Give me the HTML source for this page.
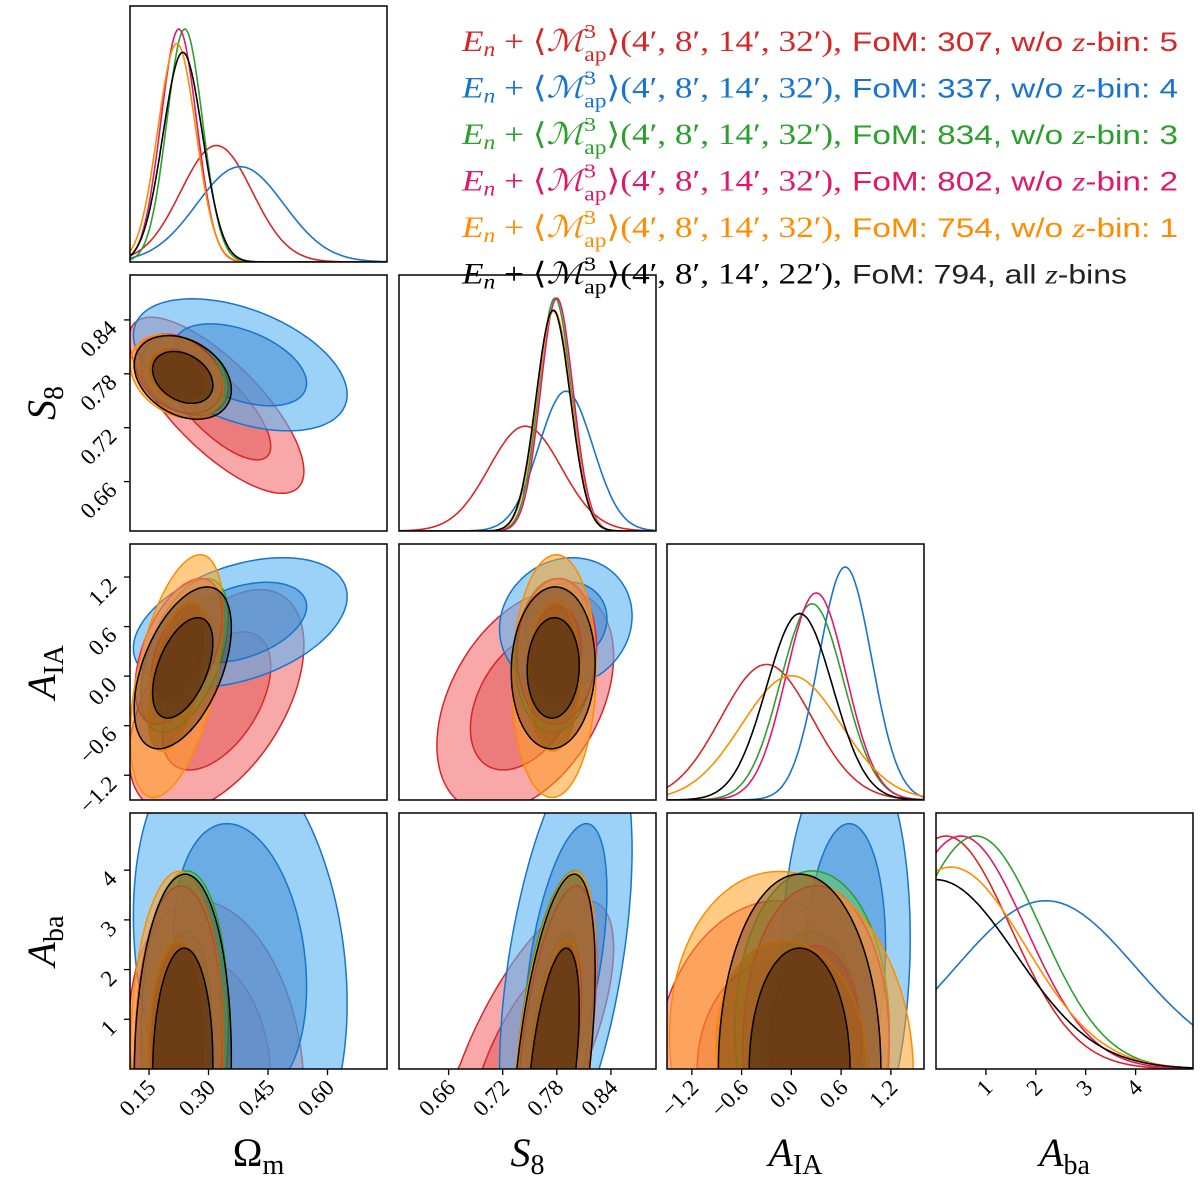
<!DOCTYPE html>
<html><head><meta charset="utf-8"><style>
html,body{margin:0;padding:0;background:#fff;overflow:hidden;width:1200px;height:1200px;}
svg{display:block;}
.tk{font-family:"Liberation Serif",serif;font-size:23px;}
.ax{font-family:"Liberation Serif",serif;font-size:40px;}
.m{font-family:"Liberation Serif",serif;font-size:30px;}
.s{font-family:"Liberation Sans",sans-serif;font-size:27px;}
</style></head><body>
<svg id="c" width="1200" height="1200" viewBox="0 0 1200 1200" xmlns="http://www.w3.org/2000/svg" overflow="hidden"></svg>
<script>
// ---- data ----
const ranges=[[0.102,0.75],[0.605,0.89],[-1.5,1.6],[0,5.15]];
const ticksOm=[0.15,0.30,0.45,0.60];
const ticksS8=[0.66,0.72,0.78,0.84];
const ticksAIA=[-1.2,-0.6,0.0,0.6,1.2];
const ticksAba=[1,2,3,4];
const tickLabelsOm=['0.15','0.30','0.45','0.60'];
const tickLabelsS8=['0.66','0.72','0.78','0.84'];
const tickLabelsAIA=['\u22121.2','\u22120.6','0.0','0.6','1.2'];
const tickLabelsAba=['1','2','3','4'];
const seriesNames=['bin5','bin4','bin3','bin2','bin1','all'];
const foms=['307','337','834','802','754','794'];
const meanOm=[0.32,0.38,0.24,0.225,0.22,0.235];
const sigOm=[0.09,0.11,0.045,0.045,0.048,0.05];
const meanS8=[0.745,0.79,0.778,0.78,0.777,0.776];
const sigS8=[0.04,0.03,0.018,0.018,0.019,0.019];
const meanAIA=[-0.3,0.65,0.25,0.3,0.0,0.1];
const sigAIA=[0.55,0.32,0.38,0.36,0.6,0.4];
const meanAba=[0.2,2.2,0.8,0.5,0.3,0.0];
const sigAba=[1.3,1.8,1.3,1.3,1.5,1.6];
const corrOmS8=[-0.75,-0.45,-0.3,-0.3,-0.3,-0.3];
const corrOmAIA=[0.5,0.4,0.5,0.5,0.5,0.5];
const corrS8AIA=[0.4,0.1,0.05,0.05,0.05,0.05];
const corrOmAba=[-0.2,-0.2,0.05,0.05,0.05,0.05];
const corrS8Aba=[0.7,0.5,0.5,0.5,0.5,0.5];
const corrAIAAba=[0.1,0.1,0.0,0.0,-0.1,0.0];

const lineCol=['#d62728','#1874cd','#2ca02c','#e0186c','#ff8c00','#000000'];
const outerFill=['#f47a7a','#5ab4f4','#5cc85c','#e0508c','#ffa020','#3a2510'];
const innerFill=['#e05050','#3a86d0','#3aa03a','#c0306c','#e08010','#2a1508'];
const outerOp=[0.65,0.6,0.55,0.55,0.55,0.35];
const innerOp=[0.5,0.5,0.5,0.5,0.5,0.45];

const means=[meanOm,meanS8,meanAIA,meanAba];
const sigs=[sigOm,sigS8,sigAIA,sigAba];
const corr={'1,0':corrOmS8,'2,0':corrOmAIA,'2,1':corrS8AIA,'3,0':corrOmAba,'3,1':corrS8Aba,'3,2':corrAIAAba};
const ticks=[ticksOm,ticksS8,ticksAIA,ticksAba];
const tickLabels=[tickLabelsOm,tickLabelsS8,tickLabelsAIA,tickLabelsAba];
const colX=[130,399,667,936], rowY=[6,275,544,813], W=257, H=256;
const NS='http://www.w3.org/2000/svg';
const svg=document.getElementById('c');
function mk(tag,attrs,parent){const e=document.createElementNS(NS,tag);for(const k in attrs)e.setAttribute(k,attrs[k]);(parent||svg).appendChild(e);return e;}
function sx(v,c){return colX[c]+(v-ranges[c][0])/(ranges[c][1]-ranges[c][0])*W;}
function sy(v,r){return rowY[r]+H-(v-ranges[r][0])/(ranges[r][1]-ranges[r][0])*H;}
function clamp(v,a,b){return Math.max(a,Math.min(b,v));}
function panel(r,c){return mk('svg',{x:colX[c],y:rowY[r],width:W,height:H,viewBox:colX[c]+' '+rowY[r]+' '+W+' '+H,overflow:'hidden'});}

// 2D panels
for(let r=1;r<4;r++)for(let c=0;c<r;c++){
  const g=panel(r,c);
  
  
  const rho=corr[r+','+c];
  for(let s=0;s<6;s++){
    [2.45,1.52].forEach((k,li)=>{
      let d='';
      for(let i=0;i<=120;i++){
        const t=i/120*2*Math.PI;
        const xv=means[c][s]+k*sigs[c][s]*Math.cos(t);
        const yv=means[r][s]+k*sigs[r][s]*(rho[s]*Math.cos(t)+Math.sqrt(1-rho[s]*rho[s])*Math.sin(t));
        const px=clamp(sx(xv,c),colX[c]-2,colX[c]+W+2), py=clamp(sy(yv,r),rowY[r]-2,rowY[r]+H+2);
        d+=(i?'L':'M')+px.toFixed(1)+','+py.toFixed(1);
      }
      const p=mk('path',{d:d+'Z',fill:li?innerFill[s]:outerFill[s],'fill-opacity':li?innerOp[s]:outerOp[s],stroke:lineCol[s],'stroke-width':1.5},g);
      
      
    });
  }
}

// 1D panels
for(let d=0;d<4;d++){
  const g=panel(d,d);
  
  
  let mx=0;
  for(let s=0;s<6;s++){mx=Math.max(mx,1/sigs[d][s]);}
  for(let s=0;s<6;s++){
    let p='';
    for(let i=0;i<=200;i++){
      const v=ranges[d][0]+i/200*(ranges[d][1]-ranges[d][0]);
      const z=(v-means[d][s])/sigs[d][s];
      const dens=Math.exp(-0.5*z*z)/sigs[d][s]/mx;
      p+=(i?'L':'M')+sx(v,d).toFixed(1)+','+(rowY[d]+H-dens*0.91*H).toFixed(1);
    }
    const e=mk('path',{d:p,fill:'none',stroke:lineCol[s],'stroke-width':1.6},g);
    
    
  }
}

// frames and ticks
for(let r=0;r<4;r++)for(let c=0;c<=r;c++){
  const f=mk('rect',{x:colX[c],y:rowY[r],width:W,height:H,fill:'none',stroke:'#000','stroke-width':1.5});
  
  
  if(r===3){
    ticks[c].forEach((v,i)=>{
      const x=sx(v,c);
      mk('line',{x1:x,x2:x,y1:rowY[3]+H,y2:rowY[3]+H+6,stroke:'#000','stroke-width':1.3});
      const tx=x+8, ty=rowY[3]+H+20;
      const t=mk('text',{x:tx,y:ty,'text-anchor':'end',class:'tk',transform:'rotate(-45 '+tx+' '+ty+')'});
      t.textContent=tickLabels[c][i];
      
      
    });
  }
  if(c===0&&r>0){
    ticks[r].forEach((v,i)=>{
      const y=sy(v,r);
      mk('line',{x1:colX[0]-6,x2:colX[0],y1:y,y2:y,stroke:'#000','stroke-width':1.3});
      const tx=colX[0]-12, ty=y+10;
      const t=mk('text',{x:tx,y:ty,'text-anchor':'end',class:'tk',transform:'rotate(-45 '+tx+' '+ty+')'});
      t.textContent=tickLabels[r][i];
      
      
    });
  }
}

// axis labels
const axLab=[['Ω','m'],['S','8'],['A','IA'],['A','ba']];
const italic=[false,true,true,true];
for(let c=0;c<4;c++){
  const t=mk('text',{x:colX[c]+W/2,y:1166,'text-anchor':'middle',class:'ax'});
  t.innerHTML='<tspan font-style="'+(italic[c]?'italic':'normal')+'">'+axLab[c][0]+'</tspan><tspan font-size="28" dy="8">'+axLab[c][1]+'</tspan>';
  
  
}
for(let r=1;r<4;r++){
  const cy=rowY[r]+H/2, cx=55;
  const t=mk('text',{x:cx,y:cy,'text-anchor':'middle',class:'ax',transform:'rotate(-90 '+cx+' '+cy+')'});
  t.innerHTML='<tspan font-style="italic">'+axLab[r][0]+'</tspan><tspan font-size="28" dy="8">'+axLab[r][1]+'</tspan>';
  
  
}

// legend
for(let s=0;s<6;s++){
  const y=51+s*46.5;
  const last=s===5?'22':'32';
  const m=mk('text',{x:462,y:y,class:'m',fill:lineCol[s],textLength:380,lengthAdjust:'spacingAndGlyphs'});
  m.innerHTML='<tspan font-style="italic">E</tspan><tspan font-style="italic" font-size="20" dy="5">n</tspan><tspan dy="-5"> + ⟨</tspan><tspan font-style="italic">ℳ</tspan><tspan font-size="20" dy="-13">3</tspan><tspan font-size="20" dx="-10" dy="23">ap</tspan><tspan dy="-10">⟩(4′, 8′, 14′, '+last+'′),</tspan>';
  
  
  const parts=s===5?'FoM: '+foms[s]+', all ':'FoM: '+foms[s]+', w/o ';
  const t=mk('text',{x:852,y:y,class:'s',fill:s===5?'#222':lineCol[s],textLength:s===5?275:326,lengthAdjust:'spacingAndGlyphs'});
  t.innerHTML=parts+'<tspan font-family="Liberation Serif" font-style="italic">z</tspan>'+(s===5?'-bins':'-bin: '+(5-s));
  
  
}
</script>
</body></html>
